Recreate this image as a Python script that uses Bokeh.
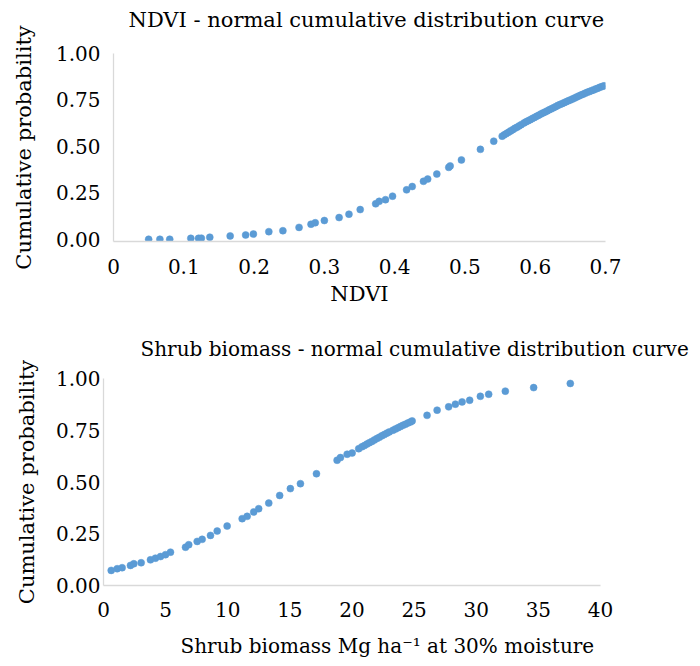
from bokeh.plotting import figure
from bokeh.models import Range1d, FixedTicker, NumeralTickFormatter, Title
from bokeh.embed import file_html
from bokeh.resources import INLINE

# ---------------- data ----------------
ndvi_values = [0.050, 0.066, 0.080, 0.110, 0.121, 0.125, 0.137, 0.166, 0.188, 0.199,
               0.221, 0.241, 0.264, 0.281, 0.287, 0.300, 0.321, 0.335, 0.351, 0.373,
               0.378, 0.387, 0.397, 0.417, 0.425, 0.441, 0.447, 0.460, 0.477, 0.479,
               0.495, 0.522, 0.541,
               0.553, 0.556, 0.559, 0.562, 0.565, 0.568, 0.571, 0.574, 0.577, 0.580,
               0.584, 0.587, 0.590, 0.593, 0.596, 0.599, 0.602, 0.605, 0.608, 0.611,
               0.614, 0.617, 0.620, 0.623, 0.626, 0.629, 0.632, 0.635, 0.638, 0.641,
               0.644, 0.647, 0.650, 0.653, 0.656, 0.659, 0.662, 0.665, 0.668, 0.671,
               0.674, 0.677, 0.680, 0.683, 0.686, 0.689, 0.692, 0.695, 0.698]
ndvi_cum_prob = [0.000, 0.000, 0.000, 0.005, 0.005, 0.006, 0.011, 0.018, 0.023, 0.028,
                 0.041, 0.046, 0.064, 0.081, 0.089, 0.101, 0.117, 0.135, 0.160, 0.191,
                 0.204, 0.213, 0.232, 0.266, 0.284, 0.312, 0.324, 0.351, 0.387, 0.395,
                 0.427, 0.484, 0.528,
                 0.555, 0.562, 0.569, 0.576, 0.583, 0.590, 0.597, 0.603, 0.610, 0.617,
                 0.626, 0.632, 0.638, 0.644, 0.650, 0.656, 0.662, 0.668, 0.674, 0.680,
                 0.685, 0.691, 0.697, 0.702, 0.708, 0.714, 0.720, 0.725, 0.730, 0.735,
                 0.740, 0.745, 0.750, 0.755, 0.760, 0.766, 0.771, 0.776, 0.781, 0.786,
                 0.791, 0.795, 0.800, 0.804, 0.809, 0.813, 0.818, 0.822, 0.826]

biomass_values = [0.62, 1.10, 1.50, 2.17, 2.44, 3.03, 3.78, 4.18, 4.59, 4.99,
                  5.39, 6.60, 6.86, 7.54, 7.94, 8.61, 9.15, 9.95, 11.16, 11.56,
                  12.09, 12.49, 13.30, 14.18, 15.04, 15.85, 17.14, 18.80, 19.07, 19.61,
                  20.01, 20.54, 20.80, 21.00, 21.20, 21.40, 21.60, 21.80, 22.00, 22.20,
                  22.40, 22.60, 22.80, 23.00, 23.30, 23.50, 23.70, 23.90, 24.10, 24.30,
                  24.50, 24.70, 24.84, 26.04, 26.85, 27.78, 28.32, 28.86, 29.47, 30.33,
                  31.00, 32.34, 34.62, 37.57]
biomass_cum_prob = [0.073, 0.081, 0.086, 0.097, 0.105, 0.110, 0.124, 0.132, 0.140, 0.149,
                    0.161, 0.185, 0.197, 0.213, 0.223, 0.242, 0.263, 0.287, 0.323, 0.334,
                    0.355, 0.371, 0.398, 0.435, 0.468, 0.492, 0.540, 0.605, 0.618, 0.634,
                    0.640, 0.661, 0.670, 0.676, 0.683, 0.690, 0.696, 0.703, 0.710, 0.716,
                    0.723, 0.729, 0.736, 0.742, 0.750, 0.756, 0.762, 0.768, 0.774, 0.779,
                    0.785, 0.790, 0.795, 0.822, 0.847, 0.863, 0.876, 0.887, 0.895, 0.914,
                    0.924, 0.939, 0.956, 0.976]

ndvi_ticks = [0, 0.1, 0.2, 0.3, 0.4, 0.5, 0.6, 0.7]
ndvi_tick_labels = ["0", "0.1", "0.2", "0.3", "0.4", "0.5", "0.6", "0.7"]
biomass_ticks = [0, 5, 10, 15, 20, 25, 30, 35, 40]
prob_ticks = [0, 0.25, 0.5, 0.75, 1.0]

title_top = "NDVI - normal cumulative distribution curve"
title_bottom = "Shrub biomass - normal cumulative distribution curve"
xlabel_top = "NDVI"
xlabel_bottom = "Shrub biomass Mg ha\u207b\u00b9  at 30% moisture"
ylabel = "Cumulative probability"

# ---------------- style ----------------
FONT = "DejaVu Serif"
DOT = "#5B9BD5"
AXIS = "#D9D9D9"


def style(p, xstandoff, lstandoff, ystandoff, ylstandoff):
    p.grid.visible = False
    p.outline_line_color = None
    for ax in (p.xaxis[0], p.yaxis[0]):
        ax.axis_line_color = AXIS
        ax.axis_line_width = 1.3
        ax.major_tick_line_color = None
        ax.minor_tick_line_color = None
        ax.major_tick_out = 0
        ax.major_tick_in = 0
        ax.major_label_text_font = FONT
        ax.major_label_text_font_size = "20px"
        ax.major_label_text_color = "#000000"
        ax.axis_label_text_font = FONT
        ax.axis_label_text_font_size = "21px"
        ax.axis_label_text_font_style = "normal"
        ax.axis_label_text_color = "#000000"
    p.xaxis[0].major_label_standoff = xstandoff
    p.xaxis[0].axis_label_standoff = lstandoff
    p.yaxis[0].major_label_standoff = ystandoff
    p.yaxis[0].axis_label_standoff = ylstandoff
    p.yaxis[0].ticker = FixedTicker(ticks=prob_ticks)
    p.yaxis[0].formatter = NumeralTickFormatter(format="0.00")


def spacer(p, side, gap):
    # a blank, near-zero-size title that only reserves space
    p.add_layout(Title(text=" ", text_font_size="1px", standoff=gap,
                       text_color="#FFFFFF"), side)


def side_text(p, side, txt, offset, size):
    p.add_layout(Title(text=txt, text_font=FONT, text_font_size=size,
                       text_font_style="normal", text_color="#000000",
                       align="left", offset=offset, standoff=0), side)


# ---------------- top chart ----------------
p1 = figure(width=700, height=328, output_backend="svg", toolbar_location=None,
            x_range=Range1d(0, 0.7), y_range=Range1d(-0.012, 1.0),
            min_border_left=113, min_border_right=95, min_border_top=53,
            min_border_bottom=87, x_axis_label=xlabel_top, y_axis_label=ylabel)
style(p1, 17, 5, 13, 17)
p1.xaxis[0].ticker = FixedTicker(ticks=ndvi_ticks)
p1.xaxis[0].major_label_overrides = dict(zip(ndvi_ticks, ndvi_tick_labels))
p1.scatter(ndvi_values, ndvi_cum_prob, marker="circle", size=7,
           fill_color=DOT, line_color=DOT, line_width=0.5)
spacer(p1, "above", 19)
side_text(p1, "above", title_top, 15, "21px")

# ---------------- bottom chart ----------------
p2 = figure(width=700, height=335, output_backend="svg", toolbar_location=None,
            x_range=Range1d(0, 40), y_range=Range1d(0, 1.0),
            min_border_left=103, min_border_right=100, min_border_top=50,
            min_border_bottom=78, y_axis_label=ylabel)
style(p2, 16, 11, 3, 14)
p2.xaxis[0].ticker = FixedTicker(ticks=biomass_ticks)
p2.scatter(biomass_values, biomass_cum_prob, marker="circle", size=7,
           fill_color=DOT, line_color=DOT, line_width=0.5)
spacer(p2, "above", 15)
side_text(p2, "above", title_bottom, 37, "20px")
spacer(p2, "below", 9)
side_text(p2, "below", xlabel_bottom, 77, "20px")

open("out.html", "w").write(file_html([p1, p2], INLINE))
